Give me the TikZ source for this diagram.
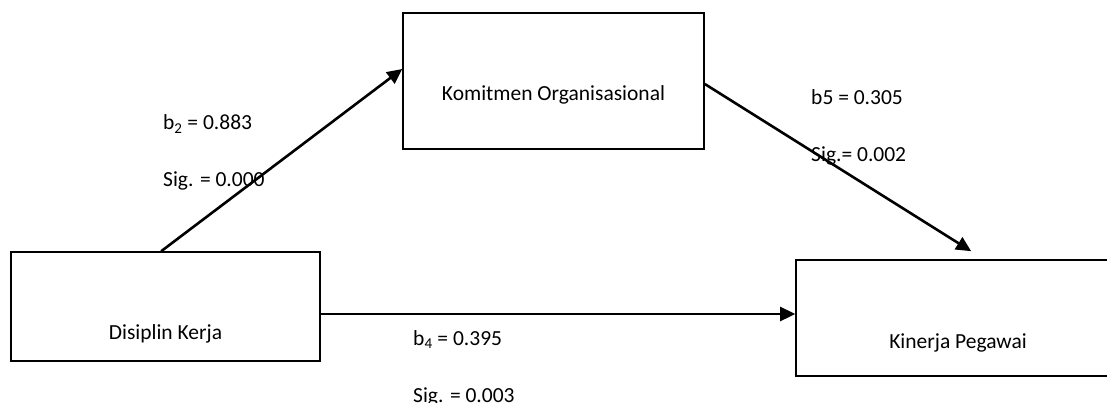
\documentclass[tikz,border=0pt]{standalone}
\usepackage{fontspec}
\setmainfont{Carlito}
\usetikzlibrary{arrows.meta}
\begin{document}
\begin{tikzpicture}[x=1pt,y=-1pt,
  box/.style={draw=black,line width=1.6pt,inner sep=0pt,fill=none},
  txt/.style={inner sep=0pt,font=\fontsize{21.5}{25}\selectfont},
  conn/.style={line width=2.6pt,-{Triangle[length=15pt,width=14pt]}}]
\clip (0,0) rectangle (1107,403);
\fill[white] (0,0) rectangle (1107,403);
% boxes
\node[box,minimum width=301pt,minimum height=136pt] (ko) at (553.5,81) {};
\node[box,minimum width=309pt,minimum height=109pt] (dk) at (165.5,306.5) {};
\node[box,minimum width=324pt,minimum height=116pt] (kp) at (958,318) {};
% box texts
\node[txt,anchor=base] (kot) at ([yshift=-20pt]ko.center) {Komitmen Organisasional};
\node[txt,anchor=base] (dkt) at ([yshift=-32.5pt]dk.center) {Disiplin Kerja};
\node[txt,anchor=base] (kpt) at ([yshift=-30pt]kp.center) {Kinerja Pegawai};
% connectors
\draw[conn] ([xshift=151pt]dk.north west) -- ([yshift=12pt]ko.west);
\draw[conn] ([yshift=-3pt]ko.east) -- ([xshift=176pt,yshift=8pt]kp.north west);
\draw[conn] ([yshift=-7.5pt]dk.east) -- ([yshift=-7.5pt]dk.east -| kp.west);
% labels
\node[txt,anchor=base west] (l1) at (163,130) {b\textsubscript{2} = 0.883};
\node[txt,anchor=base west] (l2) at (163,187) {Sig. = 0.000};
\node[txt,anchor=base west] (l3) at (811,105) {b5 = 0.305};
\node[txt,anchor=base west] (l4) at (811,162) {Sig.= 0.002};
\node[txt,anchor=base west] (l5) at (413,345) {b\textsubscript{4} = 0.395};
\node[txt,anchor=base west] (l6) at (413,402) {Sig. = 0.003};
\end{tikzpicture}
\end{document}
